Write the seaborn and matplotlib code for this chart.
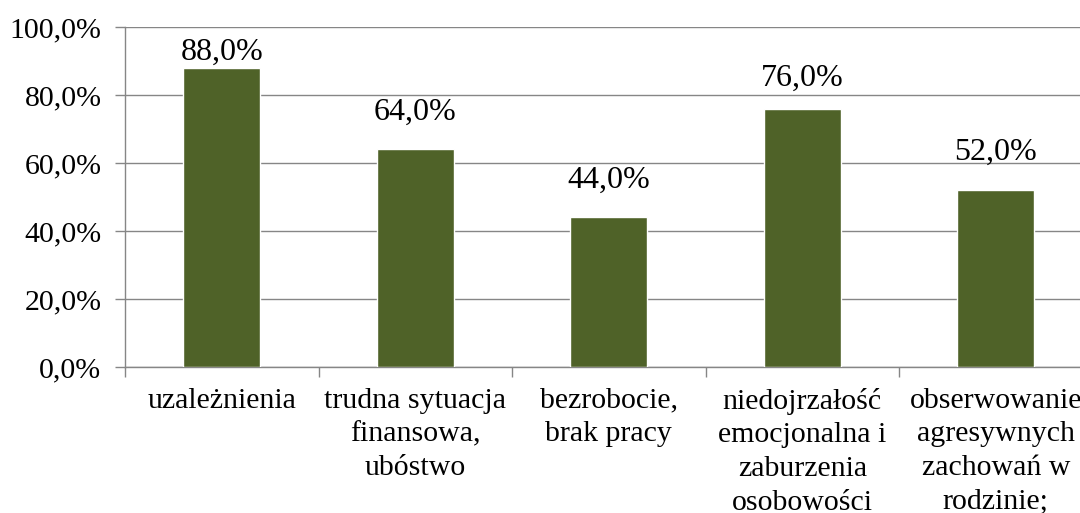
import matplotlib
matplotlib.use("Agg")
import matplotlib.pyplot as plt
import seaborn as sns
import pandas as pd
from matplotlib.ticker import FixedLocator, FuncFormatter

categories = [
    "uzależnienia",
    "trudna sytuacja\nfinansowa,\nubóstwo",
    "bezrobocie,\nbrak pracy",
    "niedojrzałość\nemocjonalna i\nzaburzenia\nosobowości",
    "obserwowanie\nagresywnych\nzachowań w\nrodzinie;",
]
values = [88.0, 64.0, 44.0, 76.0, 52.0]
yticks = [0, 20, 40, 60, 80, 100]

sns.set_theme(style="white")
plt.rcParams['font.family'] = ['Liberation Serif', 'DejaVu Serif']

df = pd.DataFrame({"cat": categories, "val": values})

fig = plt.figure(figsize=(10.8, 5.13), dpi=100)
ax = fig.add_axes([125/1080, 1-367/513, (1092.5-125)/1080, (367-27)/513])

sns.barplot(data=df, x="cat", y="val", color="#4F6228", width=0.4,
            saturation=1, ax=ax, zorder=3)

ax.set_ylim(0, 100)
ax.set_xlim(-0.5, len(categories) - 0.5)
ax.set_yticks(yticks)
ax.yaxis.set_major_formatter(FuncFormatter(lambda v, p: f"{v:.1f}%".replace(".", ",")))
ax.yaxis.grid(True, color="#868686", linewidth=1.0, zorder=0)
ax.xaxis.grid(False)
ax.set_xlabel("")
ax.set_ylabel("")

ax.xaxis.set_minor_locator(FixedLocator([i - 0.5 for i in range(len(categories) + 1)]))
ax.tick_params(axis="x", which="major", length=0, pad=15, labelsize=21.5, colors="black")
ax.tick_params(axis="x", which="minor", length=7, width=1, color="#868686", bottom=True)
ax.tick_params(axis="y", which="major", length=7, width=1, color="#868686", left=True,
               pad=10, labelsize=21.5, labelcolor="black")
for lab in ax.get_xticklabels():
    lab.set_linespacing(1.38)

for s in ["top", "right"]:
    ax.spines[s].set_visible(False)
for s in ["left", "bottom"]:
    ax.spines[s].set_color("#868686")
    ax.spines[s].set_linewidth(1.0)

label_pad = [1.0, 16.5, 16.5, 11.5, 16.5]
for c in ax.containers:
    for patch, v, pad in zip(c.patches, values, label_pad):
        ax.annotate(f"{v:.1f}%".replace(".", ","),
                    xy=(patch.get_x() + patch.get_width() / 2, patch.get_height()),
                    xytext=(0, pad), textcoords="offset points",
                    ha="center", va="bottom", fontsize=23, color="black", zorder=5)

fig.savefig("out.png", dpi=100)
